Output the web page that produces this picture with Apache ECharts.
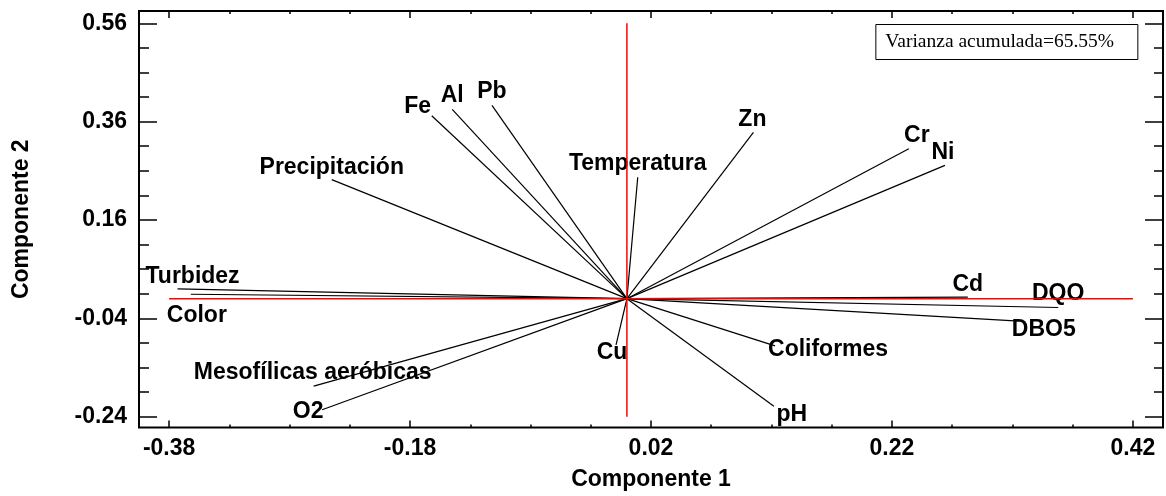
<!DOCTYPE html>
<html>
<head>
<meta charset="utf-8">
<script src="https://cdn.jsdelivr.net/npm/echarts@6/dist/echarts.min.js"></script>
<style>
html,body{margin:0;padding:0;background:#fff;}
#chart{width:1166px;height:496px;}
</style>
</head>
<body>
<div id="chart"></div>
<script>
// ---- data ----
const variables = ['Fe','Al','Pb','Temperatura','Zn','Cr','Ni','Precipitación','Turbidez','Color',
  'Mesofílicas aeróbicas','O2','Cu','Coliformes','pH','Cd','DQO','DBO5'];
const comp1 = [-0.162,-0.145,-0.112, 0.009, 0.105, 0.234, 0.264,-0.245,-0.373,-0.362,
  -0.260,-0.253,-0.009, 0.123, 0.122, 0.283, 0.358, 0.322];
const comp2 = [ 0.372, 0.385, 0.393, 0.247, 0.338, 0.305, 0.271, 0.242, 0.020, 0.009,
  -0.178,-0.226,-0.094,-0.096,-0.219, 0.003,-0.018,-0.045];
const xTicks = [-0.38,-0.18,0.02,0.22,0.42];
const yTicks = [-0.24,-0.04,0.16,0.36,0.56];
const refH = [[-0.38,0],[0.42,0]];
const refV = [[0,-0.24],[0,0.56]];
const varianceText = 'Varianza acumulada=65.55%';

// ---- layout (label offsets in px from vector tip) ----
const labelOffsets = [[-14,-9],[0,-14],[0,-14],[0,-14],[-1,-13],[8,-13],[-2,-13],[0,-12],[15,-12],[6,21],
  [-1,-14],[-14,2],[-4,8],[53,4],[18,8],[0,-13],[0,-14],[29,9]];

function minors(majors, n){
  const out=[];
  const step=(majors[1]-majors[0])/n;
  for(let i=0;i<majors.length-1;i++){
    for(let k=1;k<n;k++) out.push(+(majors[i]+k*step).toFixed(4));
  }
  return out;
}
const xMinor = minors(xTicks,4), yMinor = minors(yTicks,4);
const XMIN=-0.405, XMAX=0.445, YMIN=-0.262, YMAX=0.585;
const FONT='"Liberation Sans", Arial, sans-serif';
const FS=23;

function xAx(pos, vals, len, opts){
  return Object.assign({
    type:'value', position:pos, min:XMIN, max:XMAX, gridIndex:0,
    axisLine:{show:false, onZero:false}, splitLine:{show:false},
    axisTick:{show:true, inside:true, length:len, customValues:vals, lineStyle:{color:'#000',width:1.5}},
    axisLabel:{show:false}
  }, opts||{});
}
function yAx(pos, vals, len, opts){
  return Object.assign({
    type:'value', position:pos, min:YMIN, max:YMAX, gridIndex:0,
    axisLine:{show:false, onZero:false}, splitLine:{show:false},
    axisTick:{show:true, inside:true, length:len, customValues:vals, lineStyle:{color:'#000',width:1.5}},
    axisLabel:{show:false}
  }, opts||{});
}

const chart = echarts.init(document.getElementById('chart'));
const vecData = comp1.map((v,i)=>[v, comp2[i]]);

chart.setOption({
  animation:false,
  backgroundColor:'#fff',
  title:{
    text:varianceText, right:28, top:24,
    borderColor:'#000', borderWidth:1, padding:[8,24,8,10],
    textStyle:{fontFamily:'"Liberation Serif","Times New Roman",serif', fontWeight:'normal', fontSize:19.5, color:'#000'}
  },
  grid:{left:139, right:3, top:11, bottom:66, show:true, borderColor:'#000', borderWidth:2, backgroundColor:'transparent'},
  xAxis:[
    xAx('bottom', xTicks, 7, {
      axisLabel:{show:true, customValues:xTicks, margin:10, formatter:v=>(+v).toFixed(2),
        fontFamily:FONT, fontWeight:'bold', fontSize:FS, color:'#000'},
      name:'Componente 1', nameLocation:'middle', nameGap:52,
      nameTextStyle:{fontFamily:FONT, fontWeight:'bold', fontSize:FS, color:'#000', verticalAlign:'middle'}
    }),
    xAx('bottom', xMinor, 3),
    xAx('top', xTicks, 7),
    xAx('top', xMinor, 3)
  ],
  yAxis:[
    yAx('left', yTicks, 18, {
      axisLabel:{show:true, customValues:yTicks, margin:12, formatter:v=>(+v).toFixed(2),
        fontFamily:FONT, fontWeight:'bold', fontSize:FS, color:'#000'},
      name:'Componente 2', nameLocation:'middle', nameGap:117, nameRotate:90,
      nameTextStyle:{fontFamily:FONT, fontWeight:'bold', fontSize:FS, color:'#000', verticalAlign:'middle'}
    }),
    yAx('left', yMinor, 10),
    yAx('right', yTicks, 18),
    yAx('right', yMinor, 9)
  ],
  series:[
    {
      type:'custom', xAxisIndex:0, yAxisIndex:0, z:2,
      data:vecData,
      renderItem:function(params, api){
        const o = api.coord([0,0]);
        const p = api.coord([api.value(0), api.value(1)]);
        const off = labelOffsets[params.dataIndex];
        return {type:'group', children:[
          {type:'line', shape:{x1:o[0],y1:o[1],x2:p[0],y2:p[1]}, style:{stroke:'#000', lineWidth:1.2}},
          {type:'text', x:p[0]+off[0], y:p[1]+off[1], style:{
            text:variables[params.dataIndex], fill:'#000',
            font:'bold '+FS+'px '+FONT, align:'center', verticalAlign:'middle'}}
        ]};
      }
    },
    {type:'line', data:refH, symbol:'none', z:5, lineStyle:{color:'#ff0000', width:1.5}},
    {type:'line', data:refV, symbol:'none', z:5, lineStyle:{color:'#ff0000', width:1.5}}
  ]
});
</script>
</body>
</html>
